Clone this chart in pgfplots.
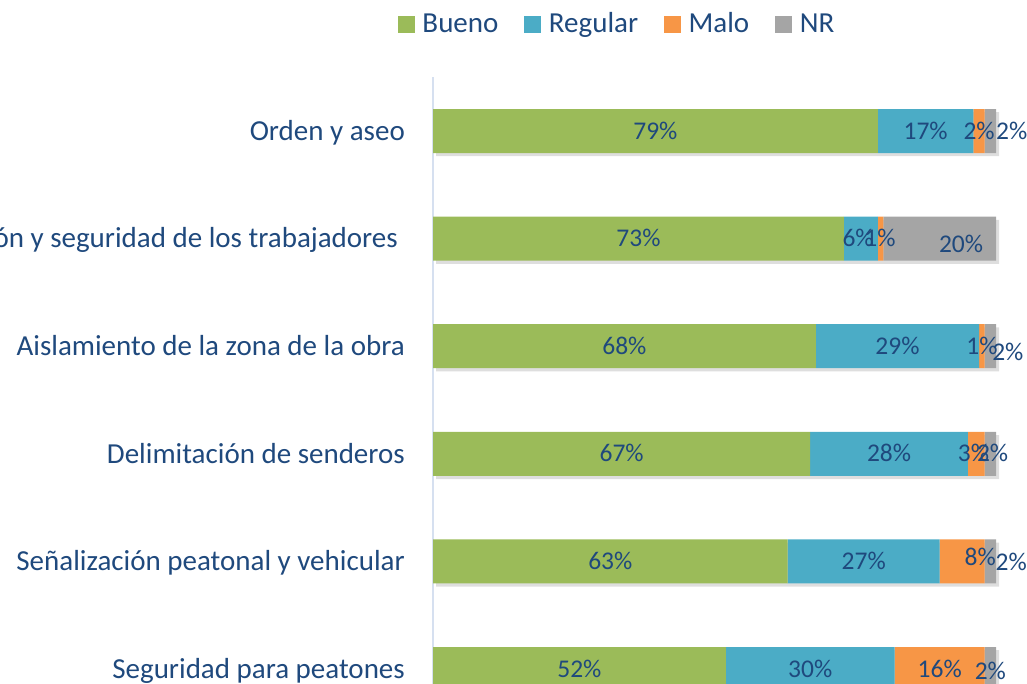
\documentclass[border=0pt]{standalone}
\usepackage{pgfplots}
\pgfplotsset{compat=1.18}
\usepackage{fontspec}
\setmainfont{Carlito}
\definecolor{cBueno}{HTML}{9BBB59}
\definecolor{cRegular}{HTML}{4BACC6}
\definecolor{cMalo}{HTML}{F79646}
\definecolor{cNR}{HTML}{A5A5A5}
\definecolor{textblue}{HTML}{1F497D}
\definecolor{axisline}{HTML}{D6E0F0}
\pgfplotsset{
  common/.style={anchor=south west, scale only axis, width=563pt, height=645.6pt,
    xmin=0, xmax=100, ymin=-0.5, ymax=5.5, y dir=reverse},
  lsq/.style={legend image code/.code={\fill[##1,draw=none] (0pt,-9.5pt) rectangle (17pt,7.5pt);}}
}
\begin{document}
\begin{tikzpicture}
\path[use as bounding box] (0,0) rectangle (1027pt,684pt);
\clip (0,0) rectangle (1027pt,684pt);
% shadow of the bars
\begin{axis}[common, at={(436pt,-42pt)}, hide axis, xbar, bar width=44pt, bar shift=0pt]
\addplot[draw=none, fill=black, opacity=0.13] coordinates {(100,0) (100,1) (100,2) (100,3) (100,4) (100,5)};
\end{axis}
% bars
\begin{axis}[common, at={(433pt,-38.8pt)}, xbar stacked, bar width=44pt,
  axis x line=none, axis y line*=left,
  axis line style={draw=axisline, line width=1pt},
  ytick={0,1,2,3,4,5},
  yticklabels={Orden y aseo, Protección y seguridad de los trabajadores\hspace*{7pt}, Aislamiento de la zona de la obra, Delimitación de senderos, Señalización peatonal y vehicular, Seguridad para peatones},
  major tick length=0pt,
  yticklabel style={anchor=base east, inner sep=0pt, xshift=-28pt, yshift=-9.3pt,
    font=\fontsize{29}{35}\selectfont, text=textblue},
  legend columns=4,
  legend style={at={(axis description cs:-0.0622,1.0831)}, anchor=west, draw=none, fill=none,
    inner sep=0pt, outer sep=0pt, font=\fontsize{29}{35}\selectfont,
    nodes={inner sep=0pt, text=textblue},
    /tikz/every odd column/.append style={column sep=7.5pt},
    /tikz/every even column/.append style={column sep=26pt}},
]
\addplot[fill=cBueno, draw=none, lsq] coordinates {(79,0) (73,1) (68,2) (67,3) (63,4) (52,5)};
\addlegendentry{Bueno}
\addplot[fill=cRegular, draw=none, lsq] coordinates {(17,0) (6,1) (29,2) (28,3) (27,4) (30,5)};
\addlegendentry{Regular}
\addplot[fill=cMalo, draw=none, lsq] coordinates {(2,0) (1,1) (1,2) (3,3) (8,4) (16,5)};
\addlegendentry{Malo}
\addplot[fill=cNR, draw=none, lsq] coordinates {(2,0) (20,1) (2,2) (2,3) (2,4) (2,5)};
\addlegendentry{NR}
\end{axis}
% data labels
\begin{axis}[common, at={(433pt,-38.8pt)}, hide axis, clip=false]
\addplot[draw=none, mark=none, point meta=explicit symbolic,
  nodes near coords={\pgfplotspointmeta\%},
  every node near coord/.style={anchor=base, inner sep=0pt, yshift=-8pt,
    font=\fontsize{25.5}{30}\selectfont, text=textblue}]
  table[meta=l] {
x y l
39.5 0 79
87.5 0 17
97 0 2
102.8 0 2
36.5 1 73
75.5 1 6
79.4 1 1
93.8 1.056 20
34 2 68
82.5 2 29
97.5 2 1
102.1 2.056 2
33.5 3 67
81 3 28
96 3 3
99.4 3 2
31.5 4 63
76.5 4 27
97.2 3.963 8
102.7 4.01 2
26 5 52
67 5 30
90 5 16
99 5.02 2
};
\end{axis}
\end{tikzpicture}
\end{document}
